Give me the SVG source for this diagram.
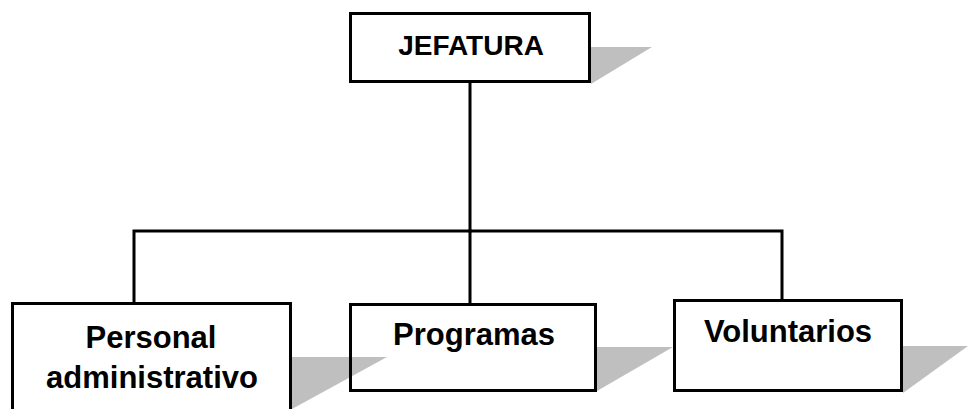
<svg xmlns="http://www.w3.org/2000/svg" width="969" height="409" viewBox="0 0 969 409">
  <style>
    .box { fill: #ffffff; stroke: #000000; stroke-width: 3; }
    .shadow { fill: #000000; fill-opacity: 0.25; }
    .link { fill: none; stroke: #000000; stroke-width: 3; stroke-linecap: square; }
    .label { font-family: "Liberation Sans", Arial, sans-serif; font-weight: bold; fill: #000000; text-anchor: middle; }
  </style>
  <rect width="969" height="409" fill="#ffffff"/>

  <!-- connectors -->
  <g id="connectors">
    <path class="link" d="M470,83 V231"/>
    <path class="link" d="M134,303 V231 H782 V300"/>
    <path class="link" d="M470,231 V304"/>
  </g>

  <g id="jefatura">
    <polygon class="shadow" points="591,47 652,47 591,84"/>
    <rect class="box" x="350.5" y="13.5" width="239" height="68"/>
    <text class="label" x="471" y="55" font-size="28">JEFATURA</text>
  </g>

  <g id="programas">
    <rect class="box" x="350.5" y="304.5" width="245" height="86"/>
    <text class="label" x="474" y="345" font-size="31">Programas</text>
  </g>

  <g id="personal-administrativo">
    <polygon class="shadow" points="292,357 387,357 292,409"/>
    <rect class="box" x="12.5" y="303.5" width="278" height="120"/>
    <text class="label" x="151" y="348" font-size="31">Personal</text>
    <text class="label" x="152" y="388" font-size="31">administrativo</text>
  </g>

  <g id="programas-shadow">
    <polygon class="shadow" points="597,347 673,347 597,391"/>
  </g>

  <g id="voluntarios">
    <polygon class="shadow" points="903,346 968,346 903,393"/>
    <rect class="box" x="674.5" y="300.5" width="227" height="90"/>
    <text class="label" x="788" y="342" font-size="31">Voluntarios</text>
  </g>
</svg>
